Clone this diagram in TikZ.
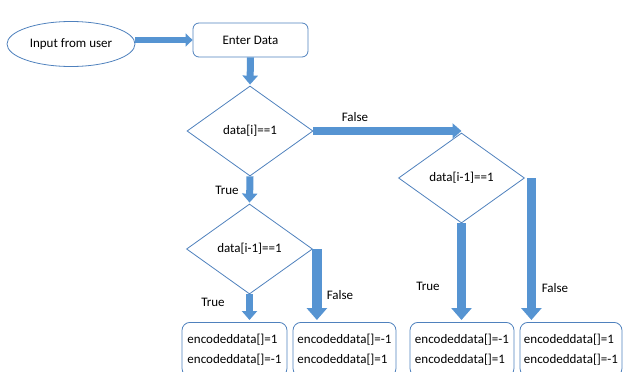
\documentclass[tikz,border=0pt]{standalone}
\usepackage{fontspec}
\setmainfont{Carlito}
\usetikzlibrary{shapes.geometric,arrows.meta}
\definecolor{shapeline}{RGB}{79,129,189}
\definecolor{arrowblue}{RGB}{86,148,210}
\tikzset{
  decision/.style={diamond,draw=shapeline,line width=0.8pt,inner sep=1pt,minimum width=126pt,minimum height=90pt},
  outbox/.style={draw=shapeline,line width=0.8pt,rounded corners=8pt,anchor=north,minimum height=54pt,align=left,inner sep=3pt},
  shortarrow/.style={arrowblue,line width=7pt,-{Triangle[width=15pt,length=9pt]}},
  longarrow/.style={arrowblue,line width=9.5pt,-{Triangle[width=20pt,length=12pt]},shorten >=2pt},
  lbl/.style={inner sep=1pt}
}
\begin{document}
\begin{tikzpicture}[x=1pt,y=-1pt,font=\fontsize{13}{20}\selectfont]
\useasboundingbox (0,0) rectangle (625,372);
\clip (0,0) rectangle (625,372);
% start
\node[ellipse,draw=shapeline,line width=0.8pt,minimum width=128pt,minimum height=45pt] (user) at (71,44) {Input from user};
\node[draw=shapeline,line width=0.8pt,rounded corners=6pt,minimum width=115pt,minimum height=34pt] (entry) at (250.5,40) {Enter Data};
% tests
\node[decision] (test1) at (250,131) {data[i]==1};
\node[decision] (test2) at (461.5,178) {data[i-1]==1};
\node[decision] (test3) at (249.5,249) {data[i-1]==1};
% results
\node[outbox,minimum width=105pt] (out1) at (234.5,322) {encodeddata[]=1\\encodeddata[]=-1};
\node[outbox,minimum width=103pt] (out2) at (344.5,322) {encodeddata[]=-1\\encodeddata[]=1};
\node[outbox,minimum width=104pt] (out3) at (462,322) {encodeddata[]=-1\\encodeddata[]=1};
\node[outbox,minimum width=102pt] (out4) at (571,322) {encodeddata[]=1\\encodeddata[]=-1};
% arrows
\draw[shortarrow,line width=6pt,-{Triangle[width=13pt,length=7pt]}] (user.east |- entry.west) -- (entry.west);
\draw[shortarrow,shorten >=1pt] (entry.south) -- (test1.north);
\draw[shortarrow,line width=8pt,-{Triangle[width=15pt,length=9pt]}] (test1.east) -- (test1.east -| test2.north);
\draw[shortarrow,shorten >=1pt] (test1.south) -- (test3.north);
\draw[shortarrow,shorten >=2pt] (test3.south) -- (test3.south |- out1.north);
\draw[longarrow] ([xshift=4pt]test3.east) -- ([xshift=4pt]test3.east |- out2.north);
\draw[longarrow] (test2.south) -- (test2.south |- out3.north);
\draw[longarrow] ([xshift=6.5pt]test2.east) -- ([xshift=6.5pt]test2.east |- out4.north);
% labels
\node[lbl] (f1) at (355,117) {False};
\node[lbl] (t1) at (227,190) {True};
\node[lbl] (t3) at (213,302) {True};
\node[lbl] (f3) at (340,295) {False};
\node[lbl] (t2) at (428,286) {True};
\node[lbl] (f2) at (555,288) {False};
\end{tikzpicture}
\end{document}
